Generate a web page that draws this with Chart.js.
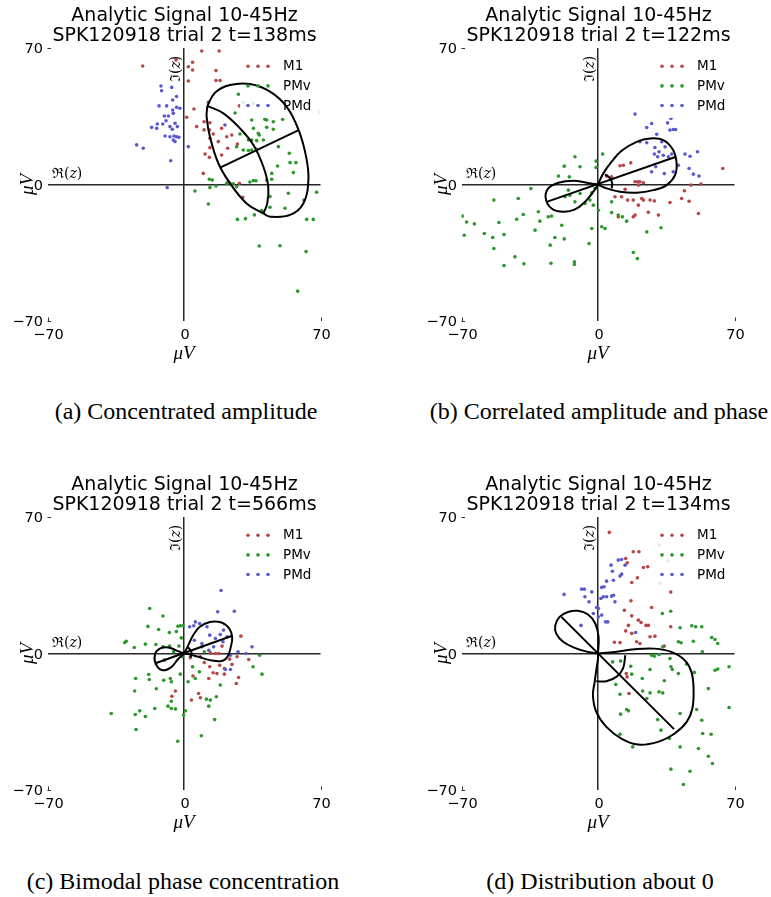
<!DOCTYPE html>
<html>
<head>
<meta charset="utf-8">
<script src="https://cdn.jsdelivr.net/npm/chart.js@4.4.0/dist/chart.umd.min.js"></script>
<style>
html, body { margin: 0; padding: 0; background: #fff; overflow: hidden; }
#page { position: relative; width: 771px; height: 897px; }
.panel { position: absolute; width: 357px; height: 368px; }
.cap { position: absolute; font-family: 'Liberation Serif', serif; font-size: 24px; color: #000;
       white-space: nowrap; transform: translate(-50%, -50%); }
</style>
</head>
<body>
<div id="page">
  <div class="panel" style="left:0;top:0"><canvas id="ca" width="357" height="368"></canvas></div>
  <div class="panel" style="left:414px;top:0"><canvas id="cb" width="357" height="368"></canvas></div>
  <div class="panel" style="left:0;top:469px"><canvas id="cc" width="357" height="368"></canvas></div>
  <div class="panel" style="left:414px;top:469px"><canvas id="cd" width="357" height="368"></canvas></div>
  <div class="cap" style="left:186px;top:411px">(a) Concentrated amplitude</div>
  <div class="cap" style="left:599px;top:411px">(b) Correlated amplitude and phase</div>
  <div class="cap" style="left:183px;top:881px">(c) Bimodal phase concentration</div>
  <div class="cap" style="left:600px;top:881px">(d) Distribution about 0</div>
</div>
<script>
// ---- data (µV) ----
const TICKS = [-70, 0, 70];
const SERIES = ['M1', 'PMv', 'PMd'];
const TITLE1 = 'Analytic Signal 10-45Hz';
const TIMES = ['138ms', '122ms', '566ms', '134ms'];

// (a) concentrated amplitude
const aM1 = [[9.1,68.5],[18.0,68.5],[-21.2,60.8],[-4.1,63.9],[4.4,62.7],[2.2,60.4],[4.4,58.7],[16.4,58.4],[2.2,53.1],[16.4,53.3],[18.5,53.3],[5.1,38.7],[12.5,42.2],[28.4,40.3],[1.4,34.5],[6.5,29.7],[10.3,32.2],[13.3,31.7],[10.3,28.0],[13.0,28.0],[19.3,28.8],[15.0,25.9],[13.3,23.7],[21.9,24.5],[24.5,25.4],[17.6,22.0],[13.3,18.9],[22.4,18.6],[19.3,15.1],[27.4,20.8],[10.8,15.6],[13.0,13.9],[9.9,5.7],[28.4,0.6],[23.6,0.6],[30.1,-6.6]];
const aPMv = [[27.9,46.3],[30.4,42.2],[35.6,41.6],[41.5,33.4],[45.8,32.2],[42.4,29.3],[50.6,33.4],[35.6,28.8],[38.1,26.2],[28.7,25.9],[33.0,22.8],[34.7,22.8],[37.3,22.5],[40.7,22.8],[45.8,28.3],[27.0,19.4],[33.0,17.4],[37.3,18.0],[48.4,19.4],[54.0,16.0],[54.4,11.2],[57.4,11.2],[56.1,6.1],[48.0,9.5],[45.0,5.7],[42.4,2.3],[35.6,2.0],[33.8,1.3],[13.0,2.7],[14.5,2.3],[21.9,0.6],[5.6,-3.3],[13.3,-1.6],[12.5,-10.0],[27.0,-1.1],[44.1,-6.2],[53.5,-4.5],[61.5,-8.0],[68.0,-4.0],[69.7,37.0],[27.4,-17.9],[31.5,-17.5],[36.1,-15.6],[44.1,-11.7],[51.8,-12.2],[62.9,-17.9],[66.3,-17.9],[38.6,-31.5],[49.2,-31.4],[62.6,-34.4],[58.3,-54.7],[26.2,36.7],[34.7,33.1],[42.4,33.1],[38.6,25.4],[30.4,17.7],[34.7,17.7],[16.4,-0.8],[22.7,1.4],[36.9,1.9],[45.0,2.7],[39.8,-13.4],[25.3,0.3]];
const aPMd = [[-11.8,50.5],[-6.3,49.8],[-11.5,48.1],[-3.8,45.1],[-5.8,43.3],[-12.8,40.3],[-8.9,40.3],[-5.8,38.2],[-3.8,39.6],[-2.1,39.1],[-8.0,35.1],[-5.5,36.5],[-10.1,35.1],[-13.7,31.0],[-10.9,31.0],[-9.2,32.7],[-4.6,31.4],[-7.2,29.7],[-3.4,29.7],[-16.6,29.3],[-14.0,28.8],[-6.0,28.3],[-9.7,24.9],[-7.2,24.5],[-5.1,24.9],[-3.8,24.5],[-2.6,24.2],[-5.5,22.8],[-4.6,22.0],[-24.3,20.3],[-20.9,18.6],[2.2,19.4],[-6.8,12.2],[-8.6,-1.6],[21.0,30.5]];
const aOuter = [[12.0,40.3],[15.9,47.1],[23.6,51.0],[33.8,51.5],[44.1,47.6],[52.6,39.9],[58.8,27.9],[62.6,14.3],[63.8,2.3],[61.2,-9.7],[54.4,-15.6],[44.1,-16.5],[40.7,-14.8],[32.1,-9.7],[23.6,0.6],[17.6,10.9],[13.3,24.5],[11.6,34.8],[12.0,40.3]];
const aInner = [[12.0,40.3],[20.2,36.5],[28.7,28.8],[35.6,20.3],[40.7,9.1],[43.2,-1.1],[42.7,-9.7],[40.7,-14.8]];
const aAxis = [[18.8,8.8],[58.8,27.9]];

// (b) correlated amplitude and phase
const bM1 = [[11.3,9.6],[13.0,9.9],[16.8,11.1],[4.4,4.3],[7.0,3.9],[19.0,1.4],[20.3,1.4],[21.5,1.4],[20.7,-0.3],[23.3,0.9],[13.9,-2.4],[8.7,-6.3],[12.1,-6.3],[15.2,-8.0],[18.1,-8.0],[22.4,-7.2],[23.3,-8.0],[26.7,-8.0],[28.9,-8.4],[20.7,-10.6],[25.8,-14.2],[31.0,-15.7],[19.0,-15.7],[18.1,-16.6],[10.4,-16.6],[36.9,-9.2],[42.9,-7.2],[44.3,-3.2],[46.7,-8.6],[47.7,-0.3],[52.8,0.2],[51.5,-14.9],[64.0,8.2]];
const bPMv = [[-11.8,14.2],[-1.0,12.0],[2.4,15.6],[-17.3,9.4],[-9.2,9.1],[-1.0,8.7],[-20.3,4.3],[-14.7,3.9],[-34.4,-2.1],[-1.5,-2.1],[-3.2,-4.3],[-15.2,-2.9],[-16.9,-6.3],[-14.4,-5.5],[-11.8,-8.9],[-9.2,-4.6],[-6.7,-9.7],[-4.1,-8.0],[-2.4,-10.6],[0.2,-13.2],[7.0,-8.9],[7.0,-14.4],[10.4,-15.7],[12.5,-16.6],[14.7,-18.8],[3.6,-22.6],[1.9,-21.7],[-3.2,-22.6],[-4.6,-30.3],[18.1,-34.9],[20.2,-38.0],[25.0,-24.3],[32.3,-22.2],[-40.9,-7.2],[-53.4,-8.0],[-38.3,-15.4],[-41.7,-17.8],[-30.6,-14.0],[-25.5,-16.6],[-23.8,-16.2],[-29.8,-18.8],[-18.6,-20.9],[-32.3,-23.4],[-67.4,-19.2],[-63.4,-20.2],[-69.6,-16.2],[-68.6,-26.0],[-58.3,-25.1],[-54.0,-27.2],[-50.8,-19.5],[-48.2,-25.7],[-53.4,-32.8],[-22.1,-27.2],[-17.3,-27.9],[-24.5,-31.1],[-42.6,-37.1],[-48.2,-41.6],[-38.0,-40.7],[-24.1,-40.4],[-12.1,-39.7],[-12.1,-41.0]];
const bPMd = [[19.0,36.1],[25.0,29.2],[27.5,31.3],[35.7,31.6],[37.4,33.9],[36.9,27.9],[38.6,28.2],[39.8,28.2],[21.5,21.9],[25.0,21.4],[30.1,25.8],[32.7,21.9],[29.2,19.0],[31.3,16.8],[34.4,19.3],[28.9,15.6],[30.6,14.2],[33.5,15.0],[36.1,14.2],[37.8,15.6],[29.6,9.1],[27.5,6.5],[34.0,5.6],[38.6,6.5],[41.2,9.9],[44.6,15.6],[47.2,14.5],[51.0,16.8],[46.7,8.2],[48.9,5.3],[51.8,4.3]];
const bLobe1 = [[0,0],[2.7,5.7],[7.0,11.7],[12.1,17.3],[19.8,21.9],[26.7,23.6],[33.5,22.8],[38.6,17.6],[40.3,10.8],[39.5,4.8],[35.2,-0.3],[28.4,-2.9],[19.8,-4.2],[11.3,-3.7],[4.4,-2.0],[0,0]];
const bLobe2 = [[0,0],[-5.8,0.9],[-12.6,1.9],[-20.3,0.9],[-25.5,-2.0],[-26.8,-7.1],[-23.8,-12.3],[-17.8,-14.0],[-11.8,-12.8],[-6.7,-8.9],[-2.4,-3.7],[0,0]];
const bAxis = [[-26.3,-8.9],[40.0,14.2]];
const bArc = [[3.6,5.3],[6.2,3.1],[7.3,0.5],[7.0,-2.0]];

// (c) bimodal phase concentration
const cM1 = [[29.2,8.9],[27.2,-1.7],[33.2,-3.1],[24.6,-5.6],[20.7,-10.6],[28.0,-12.3],[26.8,-15.4],[16.9,-10.3],[14.9,-9.9],[12.7,-12.8],[4.6,-11.5],[7.5,-20.5],[8.4,-22.7],[3.8,-23.9],[-4.4,-19.2],[-6.2,-21.9],[16.1,0],[17.8,0],[13.5,0.3],[8.4,-1.7],[10.4,-4.6],[13.2,-6.8],[18.3,-6.0],[20.7,-7.7],[23.4,-2.9],[3.2,-2.2],[19.5,3.8]];
const cPMv = [[-17.6,23.1],[-10.8,19.2],[-18.5,13.9],[-13.0,12.3],[-7.5,10.8],[-3.9,11.3],[-3.1,14.0],[-1.9,14.2],[-0.5,14.2],[-1.4,8.0],[-29.6,6.3],[-30.4,5.6],[-25.5,3.1],[-19.8,4.8],[-14.4,4.6],[-10.8,3.4],[-7.4,3.8],[-2.6,3.8],[-10.1,-3.4],[-5.3,0.9],[-1.0,-1.7],[-1.9,-10.6],[2.1,-14.5],[5.8,-12.8],[7.9,-9.4],[4.4,-6.8],[10.4,0.9],[9.2,3.4],[-24.8,-12.8],[-18.1,-10.8],[-17.8,-13.3],[-10.4,-13.7],[-7.0,-12.8],[-6.5,-14.5],[-25.3,-19.2],[-14.2,-18.1],[-6.5,-24.5],[-8.2,-27.0],[-6.5,-28.2],[-4.4,-28.4],[-15.0,-28.2],[-22.7,-29.4],[-25.0,-31.3],[-19.8,-32.3],[-37.3,-30.8],[-24.6,-39.0],[0.7,-29.4],[-0.2,-31.6],[-3.2,-45.0],[8.9,-42.2],[15.7,-33.9],[12.7,-27.0],[13.5,-23.9],[16.6,-22.2],[11.5,-23.4],[18.6,-16.2],[35.4,-6.8],[38.8,-0.9],[40.0,-10.6]];
const cPMd = [[19.0,32.3],[17.3,21.4],[25.8,21.7],[5.8,16.2],[8.0,15.4],[2.9,13.7],[5.0,14.2],[11.8,13.7],[13.2,9.4],[16.1,7.7],[18.6,9.7],[20.3,12.0],[22.1,8.6],[20.0,6.0],[15.2,3.4],[12.7,1.7],[9.2,5.1],[5.3,6.8],[23.8,-0.9],[27.7,0.9],[31.8,0],[34.9,3.4],[21.2,-8.2],[23.8,-8.2]];
const cLobe1 = [[0,0],[1.8,3.4],[4.7,9.4],[8.1,13.7],[13.3,16.2],[19.2,15.9],[23.2,12.8],[24.7,8.5],[24.0,3.4],[22.3,-1.7],[19.2,-3.9],[13.3,-3.4],[7.3,-1.7],[3.0,-0.5],[0,0]];
const cLobe2 = [[0,0],[-3.8,1.5],[-8.1,3.1],[-12.4,2.5],[-14.9,-0.5],[-14.4,-5.5],[-11.0,-8.6],[-6.5,-7.0],[-3.0,-2.8],[0,0]];
const cAxis = [[-14.6,-5.0],[24.4,9.0]];
const cArc = [[2.0,3.2],[3.5,1.5],[3.9,-0.5],[3.2,-2.0]];

// (d) distribution about 0
const dM1 = [[5.8,62.1],[18.1,52.2],[21.0,52.2],[14.2,48.7],[15.0,46.5],[23.3,44.1],[25.5,44.5],[20.2,38.8],[17.3,36.4],[37.3,31.5],[16.9,27.0],[27.5,23.6],[13.5,22.2],[17.3,19.3],[20.7,17.1],[22.1,15.9],[15.6,14.4],[24.6,14.4],[25.8,14.4],[14.2,11.6],[17.3,10.3],[29.2,8.9],[26.7,8.6],[37.3,13.7],[8.4,5.8],[11.3,5.6],[19.8,6.0],[21.5,5.1],[34.0,3.8],[14.5,-10.3],[14.9,-12.0],[15.9,-20.5],[31.3,55.6],[35.7,47.5],[31.8,35.9]];
const dPMv = [[37.3,21.7],[33.0,20.5],[42.1,13.2],[48.1,14.2],[50.1,13.7],[53.2,13.7],[58.3,8.2],[60.0,7.2],[61.4,5.1],[48.9,6.3],[41.2,6.0],[42.6,5.5],[53.5,0.9],[33.2,3.4],[27.5,-0.9],[28.9,-1.4],[31.3,-0.5],[36.9,-2.6],[37.4,-6.8],[38.1,-8.2],[41.2,-10.3],[45.5,-5.5],[49.4,-9.7],[60.0,-8.6],[61.4,-8.0],[67.2,-6.8],[56.6,-18.0],[67.2,-27.7],[50.6,-28.7],[53.2,-34.2],[53.7,-41.0],[58.0,-41.4],[56.6,-52.7],[58.7,-56.4],[51.5,-48.7],[42.1,-47.9],[37.4,-59.3],[47.2,-60.4],[43.8,-67.2],[7.5,-4.3],[11.6,-3.9],[16.8,-6.5],[17.3,-10.6],[22.7,-12.8],[26.7,-8.2],[34.0,-14.0],[9.1,-15.9],[11.3,-20.9],[22.9,-19.2],[26.7,-20.2],[31.3,-19.7],[33.2,-20.2],[14.7,-28.7],[15.6,-29.4],[11.6,-31.1],[25.0,-23.1],[32.3,-39.3],[30.6,-33.9],[42.1,-30.8],[11.3,-41.4],[17.8,-47.9],[36.6,-43.6]];
const dPMd = [[-17.4,30.3],[-8.4,33.0],[-7.0,33.0],[-6.7,29.1],[-4.6,26.5],[-3.2,31.6],[0.2,23.1],[1.9,33.9],[3.1,34.2],[4.4,37.1],[6.7,45.3],[7.4,42.2],[7.9,37.6],[10.4,47.9],[12.1,48.2],[13.9,45.3],[11.3,39.7],[12.1,40.7],[2.7,29.1],[1.5,28.2],[4.4,29.1],[7.0,29.4],[8.0,29.9],[8.7,26.5],[-0.7,23.6],[-2.4,20.5],[0.2,18.8],[3.9,16.2],[5.0,16.2],[1.9,19.7],[-8.7,14.4],[19.3,10.8]];
const dLobe1 = [[0,0],[-5.1,0.8],[-12.0,2.9],[-17.9,6.0],[-21.4,10.2],[-21.9,14.5],[-19.7,18.8],[-15.4,21.3],[-10.3,21.9],[-5.1,20.0],[-1.4,15.4],[0.3,8.5],[0,0]];
const dLobe2 = [[0,0],[8.5,0.8],[18.8,2.2],[29.1,2.5],[37.6,0.8],[44.4,-3.4],[47.9,-9.4],[49.0,-18.0],[48.4,-28.2],[45.5,-35.1],[39.3,-41.0],[30.8,-45.3],[20.5,-46.7],[12.0,-43.6],[4.3,-37.6],[-0.9,-29.9],[-2.6,-21.4],[-1.7,-14.5],[-0.9,-8.6],[0,-2.6],[0,0]];
const dAxis = [[-18.8,18.8],[39.0,-38.8]];
const dArc = [[14.0,-0.9],[12.8,-7.7],[9.4,-12.0],[4.3,-14.2],[-0.9,-14.2]];

// ---- styling ----
const COLORS = ['#b84646', '#2a982a', '#5a5ad0'];
const AXIS = '#262626';
const TICK_FONT = '14.5px "DejaVu Sans"';
const pts = arr => arr.map(([x, y]) => ({ x, y }));
const tickText = v => v < 0 ? '\u2212' + Math.abs(v) : String(v);

// draws e.g. ℜ(z) with an italic z, from x on baseline y
function mathLabel(ctx, sym, x, y) {
  ctx.textAlign = 'left';
  ctx.textBaseline = 'alphabetic';
  const parts = [[sym + '(', ''], ['z', 'italic '], [')', '']];
  let w = 0;
  parts.forEach(([s, style]) => {
    ctx.font = style + '14px "DejaVu Serif"';
    ctx.fillText(s, x + w, y);
    w += ctx.measureText(s).width;
  });
}

const decor = {
  id: 'decor',
  beforeDatasetsDraw(chart) { chart.$bgDone = false; },
  beforeDatasetDraw(chart, args) {
    // faded legend box sits above the dots but below the curves
    if (!chart.data.datasets[args.index].curve || chart.$bgDone) return;
    chart.$bgDone = true;
    const { ctx, chartArea: a } = chart;
    const cx = chart.scales.x.getPixelForValue(0);
    ctx.save();
    ctx.fillStyle = 'rgba(255,255,255,0.85)';
    ctx.fillRect(cx + 56, a.top + 6, 84, 64);
    ctx.restore();
  },
  afterDatasetsDraw(chart) {
    const { ctx, chartArea: a } = chart;
    const sx = chart.scales.x, sy = chart.scales.y;
    const cx = sx.getPixelForValue(0);
    ctx.save();
    // legend
    ctx.font = '13.5px "DejaVu Sans"';
    ctx.textBaseline = 'middle';
    ctx.textAlign = 'left';
    SERIES.forEach((name, i) => {
      const y = a.top + 18.3 + i * 19.6;
      ctx.fillStyle = COLORS[i];
      [64, 74, 84].forEach(dx => {
        ctx.beginPath();
        ctx.arc(cx + dx, y, 1.8, 0, Math.PI * 2);
        ctx.fill();
      });
      ctx.fillStyle = '#000';
      ctx.fillText(name, cx + 99, y + 0.5);
    });
    // inward tick marks at ±70
    ctx.strokeStyle = '#333';
    ctx.lineWidth = 1;
    [-70, 70].forEach(v => {
      const px = Math.round(sx.getPixelForValue(v)) + 0.5;
      ctx.beginPath(); ctx.moveTo(px, a.bottom); ctx.lineTo(px, a.bottom - 3.5); ctx.stroke();
      const py = Math.round(sy.getPixelForValue(v)) + 0.5;
      ctx.beginPath(); ctx.moveTo(a.left, py); ctx.lineTo(a.left + 3.5, py); ctx.stroke();
    });
    ctx.restore();
  },
  afterDraw(chart) {
    const { ctx, chartArea: a } = chart;
    const sx = chart.scales.x, sy = chart.scales.y;
    const opts = chart.options.plugins.decor;
    const cx = sx.getPixelForValue(0);
    const cy = sy.getPixelForValue(0);
    ctx.save();
    ctx.fillStyle = '#000';
    // tick labels
    ctx.font = TICK_FONT;
    ctx.textBaseline = 'alphabetic';
    ctx.textAlign = 'right';
    TICKS.forEach(v => ctx.fillText(tickText(v), a.left - 4.5, sy.getPixelForValue(v) + 5.3));
    ctx.textAlign = 'center';
    TICKS.forEach(v => ctx.fillText(tickText(v), sx.getPixelForValue(v) + 1, a.bottom + 18));
    // title
    ctx.font = '19px "DejaVu Sans"';
    ctx.fillText(TITLE1, cx + 0.5, a.top - 27.3);
    ctx.fillText(opts.sub, cx + 0.5, a.top - 7.3);
    // axis names
    mathLabel(ctx, '\u211C', a.left + 4.5, cy - 6.5);
    ctx.save();
    ctx.translate(cx - 4, a.top + 34);
    ctx.rotate(-Math.PI / 2);
    mathLabel(ctx, '\u2111', 0, 0);
    ctx.restore();
    ctx.font = 'italic 19px "Liberation Serif"';
    ctx.textAlign = 'center';
    ctx.textBaseline = 'alphabetic';
    ctx.fillText('\u03BCV', cx, a.bottom + 38);
    ctx.save();
    ctx.translate(a.left - 20, cy);
    ctx.rotate(-Math.PI / 2);
    ctx.textBaseline = 'middle';
    ctx.fillText('\u03BCV', 0, 0);
    ctx.restore();
    ctx.restore();
  }
};

function scaleOpts(horizontal) {
  return {
    type: 'linear',
    min: -70,
    max: 70,
    position: horizontal ? 'bottom' : 'left',
    afterFit: s => { if (horizontal) s.height = 0; else s.width = 0; },
    afterBuildTicks: s => { s.ticks = TICKS.map(v => ({ value: v })); },
    ticks: { display: false },
    grid: {
      drawTicks: false,
      lineWidth: 1.5,
      color: c => (c.tick && c.tick.value === 0) ? AXIS : 'rgba(0,0,0,0)'
    },
    border: { display: false }
  };
}

function panel(id, time, m1, pmv, pmd, curves) {
  const dots = [m1, pmv, pmd].map((d, i) => ({
    label: SERIES[i],
    data: pts(d),
    backgroundColor: COLORS[i],
    borderWidth: 0,
    pointRadius: 1.8,
    order: 3 - i
  }));
  const lines = curves.map(c => ({
    data: pts(c),
    curve: true,
    showLine: true,
    borderColor: '#000',
    borderWidth: 2,
    pointRadius: 0,
    tension: c.length > 2 ? 0.4 : 0,
    fill: false,
    order: 0
  }));
  return new Chart(document.getElementById(id), {
    type: 'scatter',
    data: { datasets: lines.concat(dots) },
    options: {
      responsive: false,
      animation: false,
      events: [],
      layout: { padding: { left: 47.5, top: 48, right: 36.5, bottom: 47 } },
      scales: { x: scaleOpts(true), y: scaleOpts(false) },
      plugins: {
        legend: { display: false },
        tooltip: { enabled: false },
        decor: { sub: 'SPK120918 trial 2 t=' + time }
      }
    },
    plugins: [decor]
  });
}

panel('ca', TIMES[0], aM1, aPMv, aPMd, [aOuter, aInner, aAxis]);
panel('cb', TIMES[1], bM1, bPMv, bPMd, [bLobe1, bLobe2, bAxis, bArc]);
panel('cc', TIMES[2], cM1, cPMv, cPMd, [cLobe1, cLobe2, cAxis, cArc]);
panel('cd', TIMES[3], dM1, dPMv, dPMd, [dLobe1, dLobe2, dAxis, dArc]);
</script>
</body>
</html>
